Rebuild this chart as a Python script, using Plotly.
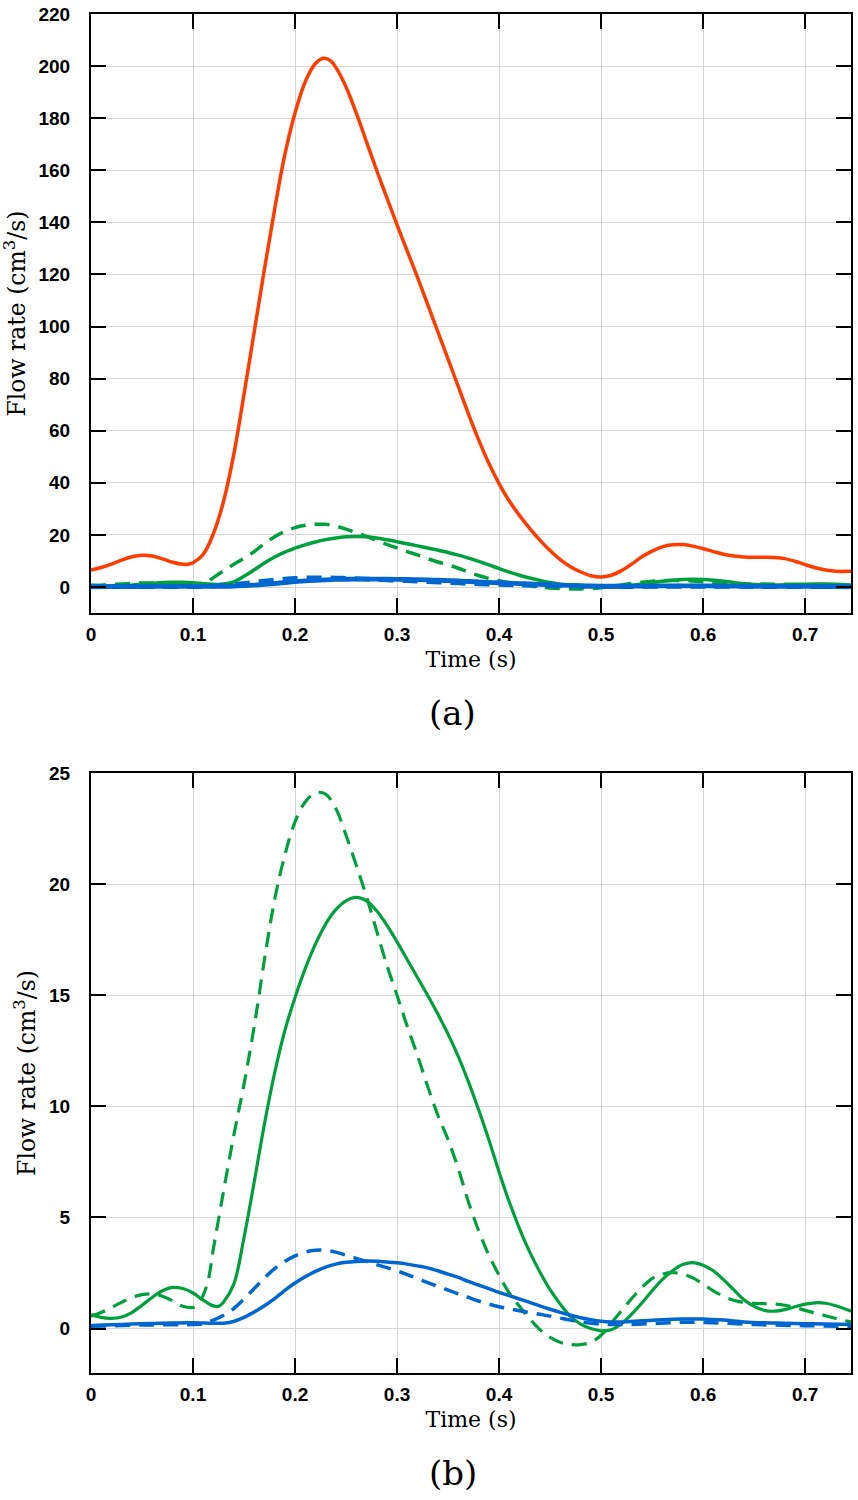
import plotly.graph_objects as go

# ---------------- data ----------------
red_t = [0, 0.01, 0.02, 0.03, 0.04, 0.05, 0.06, 0.07, 0.08, 0.09, 0.095, 0.10, 0.11, 0.12, 0.13, 0.14,
         0.15, 0.16, 0.17, 0.18, 0.19, 0.20, 0.21, 0.22, 0.228, 0.235, 0.24, 0.25, 0.26, 0.27, 0.28,
         0.29, 0.30, 0.31, 0.32, 0.33, 0.34, 0.35, 0.36, 0.37, 0.38, 0.39, 0.40, 0.41, 0.42, 0.43,
         0.44, 0.45, 0.46, 0.47, 0.48, 0.49, 0.50, 0.51, 0.52, 0.53, 0.54, 0.55, 0.56, 0.57, 0.58,
         0.59, 0.60, 0.61, 0.62, 0.63, 0.64, 0.65, 0.66, 0.67, 0.68, 0.69, 0.70, 0.71, 0.72, 0.73, 0.745]
red_v = [6.5, 7.5, 8.8, 10.3, 11.6, 12.2, 11.9, 10.8, 9.5, 8.7, 8.7, 9.3, 12.5, 20.5, 33, 51,
         74, 98, 122, 145, 166, 182, 194, 201, 203, 202, 199.5, 192, 182, 171, 160,
         149.5, 139, 129, 119, 108.5, 98, 87.5, 77, 66.5, 56.5, 47.5, 39.7, 33, 27.5, 22.5,
         18, 14, 10.5, 7.8, 5.8, 4.3, 3.8, 4.5, 6.3, 8.8, 11.6, 13.8, 15.4, 16.2, 16.3,
         15.7, 14.7, 13.6, 12.6, 11.9, 11.5, 11.4, 11.4, 11.3, 10.9, 9.9, 8.6, 7.4, 6.5, 6.0, 6.0]

green_solid_t = [0, 0.01, 0.02, 0.03, 0.04, 0.05, 0.06, 0.07, 0.08, 0.09, 0.10, 0.11, 0.12, 0.125,
                 0.13, 0.14, 0.15, 0.16, 0.17, 0.18, 0.19, 0.20, 0.21, 0.22, 0.23, 0.24, 0.25, 0.26,
                 0.27, 0.28, 0.29, 0.30, 0.31, 0.32, 0.33, 0.34, 0.35, 0.36, 0.37, 0.38, 0.39, 0.40,
                 0.41, 0.42, 0.43, 0.44, 0.45, 0.46, 0.47, 0.48, 0.49, 0.50, 0.51, 0.52, 0.53, 0.54,
                 0.55, 0.56, 0.57, 0.58, 0.59, 0.60, 0.61, 0.62, 0.63, 0.64, 0.65, 0.66, 0.67, 0.68,
                 0.69, 0.70, 0.71, 0.72, 0.73, 0.745]
green_solid_v = [0.63, 0.5, 0.46, 0.52, 0.72, 1.05, 1.4, 1.7, 1.85, 1.8, 1.6, 1.28, 1.02, 1.0,
                 1.2, 2.0, 4.1, 6.6, 9.2, 11.5, 13.4, 14.9, 16.2, 17.3, 18.2, 18.85, 19.25, 19.4,
                 19.25, 18.8, 18.15, 17.4, 16.6, 15.8, 15.0, 14.15, 13.25, 12.25, 11.1, 9.85, 8.5, 7.05,
                 5.7, 4.5, 3.45, 2.55, 1.75, 1.1, 0.55, 0.2, 0.0, -0.1, -0.05, 0.22, 0.65, 1.15,
                 1.7, 2.2, 2.6, 2.88, 2.97, 2.85, 2.6, 2.2, 1.75, 1.3, 1.0, 0.82, 0.78, 0.85,
                 0.98, 1.1, 1.16, 1.14, 1.03, 0.78]

green_dash_t = [0, 0.01, 0.02, 0.03, 0.04, 0.05, 0.06, 0.07, 0.08, 0.09, 0.10, 0.105, 0.11, 0.115,
                0.12, 0.13, 0.14, 0.15, 0.16, 0.17, 0.18, 0.19, 0.20, 0.21, 0.22, 0.23, 0.24, 0.25,
                0.26, 0.27, 0.28, 0.29, 0.30, 0.31, 0.32, 0.33, 0.34, 0.35, 0.36, 0.37, 0.38, 0.39,
                0.40, 0.41, 0.42, 0.43, 0.44, 0.45, 0.46, 0.47, 0.48, 0.49, 0.50, 0.51, 0.52, 0.53,
                0.54, 0.55, 0.56, 0.57, 0.58, 0.59, 0.60, 0.61, 0.62, 0.63, 0.64, 0.65, 0.66, 0.67,
                0.68, 0.69, 0.70, 0.71, 0.72, 0.73, 0.745]
green_dash_v = [0.56, 0.72, 0.95, 1.18, 1.4, 1.53, 1.56, 1.45, 1.25, 1.0, 0.95, 1.1, 1.5, 2.2,
                3.6, 6.2, 8.7, 11.0, 13.6, 16.6, 19.3, 21.3, 22.8, 23.7, 24.1, 24.05, 23.4, 22.2,
                20.85, 19.45, 17.9, 16.35, 15.0, 13.6, 12.3, 10.9, 9.6, 8.5, 7.2, 5.7, 4.4, 3.3,
                2.4, 1.6, 1.0, 0.45, -0.05, -0.4, -0.62, -0.72, -0.72, -0.62, -0.3, 0.25, 0.8, 1.35,
                1.85, 2.25, 2.45, 2.52, 2.45, 2.28, 2.0, 1.7, 1.45, 1.27, 1.17, 1.13, 1.12, 1.1,
                1.05, 0.95, 0.82, 0.7, 0.58, 0.45, 0.3]

blue_solid_t = [0, 0.02, 0.04, 0.06, 0.08, 0.10, 0.12, 0.13, 0.14, 0.15, 0.16, 0.17, 0.18, 0.19,
                0.20, 0.21, 0.22, 0.23, 0.24, 0.25, 0.26, 0.27, 0.28, 0.29, 0.30, 0.31, 0.32, 0.33,
                0.34, 0.35, 0.36, 0.37, 0.38, 0.39, 0.40, 0.41, 0.42, 0.43, 0.44, 0.45, 0.46, 0.47,
                0.48, 0.49, 0.50, 0.51, 0.52, 0.54, 0.56, 0.58, 0.60, 0.62, 0.64, 0.66, 0.68, 0.70,
                0.72, 0.745]
blue_solid_v = [0.14, 0.17, 0.2, 0.23, 0.25, 0.26, 0.24, 0.24, 0.32, 0.5, 0.75, 1.03, 1.35, 1.72,
                2.05, 2.33, 2.57, 2.76, 2.9, 2.98, 3.02, 3.04, 3.03, 3.0, 2.96, 2.9, 2.82, 2.73,
                2.6, 2.45, 2.3, 2.12, 1.96, 1.8, 1.63, 1.48, 1.33, 1.18, 1.02, 0.87, 0.73, 0.6,
                0.49, 0.4, 0.33, 0.3, 0.3, 0.35, 0.4, 0.43, 0.43, 0.38, 0.3, 0.26, 0.24, 0.22,
                0.2, 0.18]

blue_dash_t = [0, 0.05, 0.10, 0.11, 0.12, 0.13, 0.14, 0.15, 0.16, 0.17, 0.18, 0.19, 0.20, 0.21,
               0.22, 0.23, 0.24, 0.25, 0.26, 0.27, 0.28, 0.29, 0.30, 0.31, 0.32, 0.33, 0.34, 0.35,
               0.36, 0.37, 0.38, 0.39, 0.40, 0.41, 0.42, 0.43, 0.44, 0.45, 0.46, 0.47, 0.48, 0.50,
               0.52, 0.55, 0.58, 0.61, 0.65, 0.70, 0.745]
blue_dash_v = [0.1, 0.16, 0.18, 0.22, 0.38, 0.6, 0.9, 1.33, 1.8, 2.28, 2.7, 3.02, 3.27, 3.44,
               3.52, 3.52, 3.44, 3.3, 3.16, 3.02, 2.88, 2.74, 2.6, 2.43, 2.25, 2.07, 1.9, 1.73,
               1.56, 1.4, 1.24, 1.1, 0.98, 0.89, 0.8, 0.72, 0.64, 0.56, 0.47, 0.38, 0.3, 0.2,
               0.18, 0.22, 0.28, 0.26, 0.18, 0.13, 0.1]

x_ticks = [0, 0.1, 0.2, 0.3, 0.4, 0.5, 0.6, 0.7]
ya_ticks = list(range(0, 221, 20))
yb_ticks = [0, 5, 10, 15, 20, 25]
x_title = "Time (s)"
y_title = "Flow rate (cm<sup>3</sup>/s)"
panel_labels = ["(a)", "(b)"]

RED = "#ff3c00"
GREEN = "#00a03c"
BLUE = "#0066d0"
DASH = "15px,9px"

fig = go.Figure()

def add(t, v, color, width, dash, xa, ya):
    fig.add_trace(go.Scatter(x=t, y=v, mode="lines", xaxis=xa, yaxis=ya,
                             line=dict(color=color, width=width, dash=dash,
                                       shape="spline", smoothing=1.0),
                             showlegend=False, hoverinfo="skip"))

# panel (a)
add(red_t, red_v, RED, 3.5, "solid", "x", "y")
add(green_solid_t, green_solid_v, GREEN, 3.5, "solid", "x", "y")
add(green_dash_t, green_dash_v, GREEN, 3.5, DASH, "x", "y")
add(blue_solid_t, blue_solid_v, BLUE, 4.8, "solid", "x", "y")
add(blue_dash_t, blue_dash_v, BLUE, 4.8, DASH, "x", "y")
# panel (b)
add(green_solid_t, green_solid_v, GREEN, 3.2, "solid", "x2", "y2")
add(green_dash_t, green_dash_v, GREEN, 3.2, DASH, "x2", "y2")
add(blue_solid_t, blue_solid_v, BLUE, 3.5, "solid", "x2", "y2")
add(blue_dash_t, blue_dash_v, BLUE, 3.5, DASH, "x2", "y2")

tickfont = dict(family="Liberation Sans", size=19, color="black", weight="bold")
xtitlefont = dict(family="DejaVu Serif", size=22, color="black")
ytitlefont = dict(family="DejaVu Serif", size=23.5, color="black")

common_axis = dict(showline=True, linecolor="black", linewidth=2, mirror="ticks",
                   ticks="inside", ticklen=15, tickwidth=1.5, tickcolor="black",
                   showgrid=True, gridcolor="#d6d6d6", gridwidth=1, zeroline=False,
                   tickfont=tickfont, automargin=False, ticklabeloverflow="allow")

top_a = 1.0
bot_a = 0.5592
top_b = 0.4415

xa = dict(range=[0, 0.745], tickvals=x_ticks, ticklabelstandoff=3,
          title=dict(text=x_title, font=xtitlefont, standoff=8), **common_axis)

fig.update_layout(
    width=858, height=1500,
    margin=dict(l=91, r=7, t=14, b=127),
    paper_bgcolor="white", plot_bgcolor="white",
    xaxis=dict(domain=[0, 1], anchor="y", **xa),
    xaxis2=dict(domain=[0, 1], anchor="y2", **xa),
    yaxis=dict(domain=[bot_a, top_a], range=[-10, 220], tickvals=ya_ticks, anchor="x",
               ticklabelstandoff=15,
               title=dict(text=y_title, font=ytitlefont, standoff=7), **common_axis),
    yaxis2=dict(domain=[0, top_b], range=[-2, 25], tickvals=yb_ticks, anchor="x2",
                ticklabelstandoff=15,
                title=dict(text=y_title, font=ytitlefont, standoff=7), **common_axis),
)

fig.add_annotation(text=panel_labels[0], xref="paper", yref="paper", x=0.476, y=0.4857,
                   showarrow=False, font=dict(family="DejaVu Serif", size=34, color="black"),
                   xanchor="center", yanchor="middle")
fig.add_annotation(text=panel_labels[1], xref="paper", yref="paper", x=0.476, y=-0.0736,
                   showarrow=False, font=dict(family="DejaVu Serif", size=34, color="black"),
                   xanchor="center", yanchor="middle")

# remove the browser's default 8 px body margin so the figure sits at the page origin
fig.write_html("out.html", config={"displayModeBar": False},
               post_script="document.body.style.margin='0px';")
